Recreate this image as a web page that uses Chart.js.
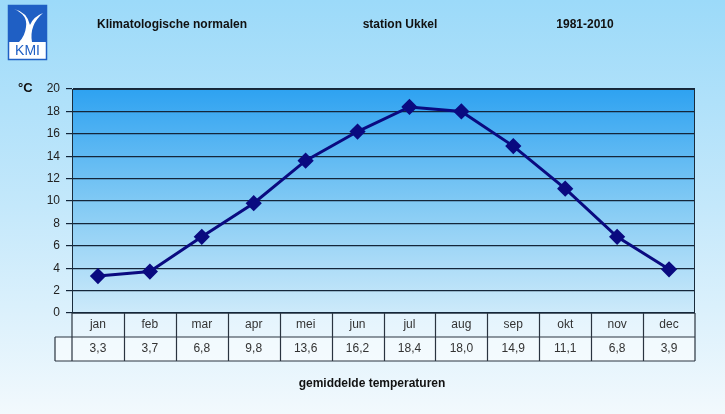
<!DOCTYPE html>
<html><head><meta charset="utf-8">
<script src="https://cdn.jsdelivr.net/npm/chart.js@4"></script>
<style>html,body{margin:0;padding:0;background:#fff}#c{display:block}</style>
</head><body>
<div style="width:725px;height:414px;position:relative"><canvas id="c" width="725" height="414"></canvas></div>
<script>
const months = ['jan','feb','mar','apr','mei','jun','jul','aug','sep','okt','nov','dec'];
const temps = [3.3,3.7,6.8,9.8,13.6,16.2,18.4,18.0,14.9,11.1,6.8,3.9];
const valueLabels = ['3,3','3,7','6,8','9,8','13,6','16,2','18,4','18,0','14,9','11,1','6,8','3,9'];
const titleParts = ['Klimatologische normalen','station Ukkel','1981-2010'];
const unitLabel = '°C';
const footer = 'gemiddelde temperaturen';

const FONT = '"Liberation Sans", Arial, sans-serif';

const deco = {
  id:'deco',
  beforeDraw(chart){
    const {ctx, width, height, chartArea:a} = chart;
    ctx.save();
    let g = ctx.createLinearGradient(0,0,0,height);
    g.addColorStop(0,'#9cdaf9'); g.addColorStop(0.5,'#c4e8fb'); g.addColorStop(1,'#f2f9fd');
    ctx.fillStyle = g; ctx.fillRect(0,0,width,height);
    g = ctx.createLinearGradient(0,a.top,0,a.bottom);
    g.addColorStop(0,'#2ea2f1'); g.addColorStop(0.5,'#80c9f4'); g.addColorStop(1,'#cdeafa');
    ctx.fillStyle = g; ctx.fillRect(a.left,a.top,a.right-a.left,a.bottom-a.top);
    ctx.restore();
  },
  afterDraw(chart){
    const {ctx, chartArea:a} = chart;
    const xs = chart.scales.x;
    ctx.save();
    ctx.fillStyle = '#111';
    ctx.font = 'bold 12px ' + FONT;
    ctx.textBaseline = 'middle';
    ctx.textAlign = 'left';
    ctx.fillText(titleParts[0], 97, 25);
    ctx.textAlign = 'center';
    ctx.fillText(titleParts[1], 400, 25);
    ctx.fillText(titleParts[2], 585, 25);
    ctx.fillText(footer, 372, 384);
    ctx.font = 'bold 13px ' + FONT;
    ctx.textAlign = 'left';
    ctx.fillText(unitLabel, 18, 88);
    ctx.strokeStyle = '#1a2c3c'; ctx.lineWidth = 1;
    ctx.strokeRect(a.left+0.5, a.top+0.5, a.right-a.left-1, a.bottom-a.top);
    const r1t = a.bottom, r1b = a.bottom+24, r2b = a.bottom+48;
    const left2 = 55;
    ctx.fillStyle = 'rgba(255,255,255,0.55)';
    ctx.fillRect(left2, r1b, a.right-left2, r2b-r1b);
    ctx.fillStyle = 'rgba(255,255,255,0.25)';
    ctx.fillRect(a.left, r1t, a.right-a.left, r1b-r1t);
    ctx.strokeStyle = '#2a3440'; ctx.lineWidth = 1.2;
    ctx.beginPath();
    ctx.moveTo(a.left, r1t); ctx.lineTo(a.left, r2b);
    ctx.moveTo(a.right, r1t); ctx.lineTo(a.right, r2b);
    ctx.moveTo(left2, r1b); ctx.lineTo(a.right, r1b);
    ctx.moveTo(left2, r2b); ctx.lineTo(a.right, r2b);
    ctx.moveTo(left2, r1b); ctx.lineTo(left2, r2b);
    const n = months.length;
    for (let i=1;i<n;i++){
      const x = Math.round((xs.getPixelForValue(i-1)+xs.getPixelForValue(i))/2)+0.5;
      ctx.moveTo(x, r1t); ctx.lineTo(x, r2b);
    }
    ctx.stroke();
    ctx.fillStyle = '#333';
    ctx.font = '12px ' + FONT;
    ctx.textAlign = 'center';
    for (let i=0;i<n;i++){
      const x = xs.getPixelForValue(i);
      ctx.fillText(months[i], x, (r1t+r1b)/2);
      ctx.fillText(valueLabels[i], x, (r1b+r2b)/2);
    }
    // logo
    const lx=8, ly=5, lw=39, lh=55, bh=37;
    ctx.fillStyle = '#fff'; ctx.fillRect(lx,ly,lw,lh);
    ctx.fillStyle = '#1f5fc4'; ctx.fillRect(lx,ly,lw,bh);
    ctx.fillStyle = '#fff';
    ctx.beginPath();
    ctx.moveTo(lx+6, ly+4);
    ctx.quadraticCurveTo(lx+20, ly+10, lx+18, ly+22);
    ctx.quadraticCurveTo(lx+17, ly+31, lx+11, ly+bh);
    ctx.lineTo(lx+24, ly+bh);
    ctx.quadraticCurveTo(lx+21, ly+20, lx+35, ly+8);
    ctx.quadraticCurveTo(lx+25, ly+12, lx+22, ly+20);
    ctx.quadraticCurveTo(lx+19, ly+7, lx+6, ly+4);
    ctx.fill();
    ctx.strokeStyle = '#1f5fc4'; ctx.lineWidth = 1.5;
    ctx.strokeRect(lx+0.5, ly+0.5, lw-1, lh-1);
    ctx.fillStyle = '#1f5fc4';
    ctx.font = '14px ' + FONT;
    ctx.textAlign = 'center';
    ctx.fillText('KMI', lx+lw/2, ly+bh+9);
    ctx.restore();
  }
};

new Chart(document.getElementById('c'), {
  type:'line',
  data:{ labels: months, datasets:[{
    data: temps,
    borderColor:'#0a0a80', backgroundColor:'#0a0a80',
    borderWidth:3, pointStyle:'rectRot', pointRadius:6, pointHoverRadius:6,
    tension:0, fill:false
  }]},
  options:{
    responsive:false, animation:false, devicePixelRatio:1,
    layout:{ padding:{ left:0, right:30, top:89, bottom:101 } },
    plugins:{ legend:{display:false}, tooltip:{enabled:false} },
    scales:{
      x:{ display:false, offset:true },
      y:{
        min:0, max:20,
        ticks:{ stepSize:2, color:'#222', font:{ family:FONT, size:12 }, padding:6 },
        grid:{ color:'#14263a', lineWidth:1.2, tickLength:6, drawTicks:true },
        border:{ display:true, color:'#14263a' },
        afterFit(s){ s.width = 72; }
      }
    }
  },
  plugins:[deco]
});
</script>
</body></html>
